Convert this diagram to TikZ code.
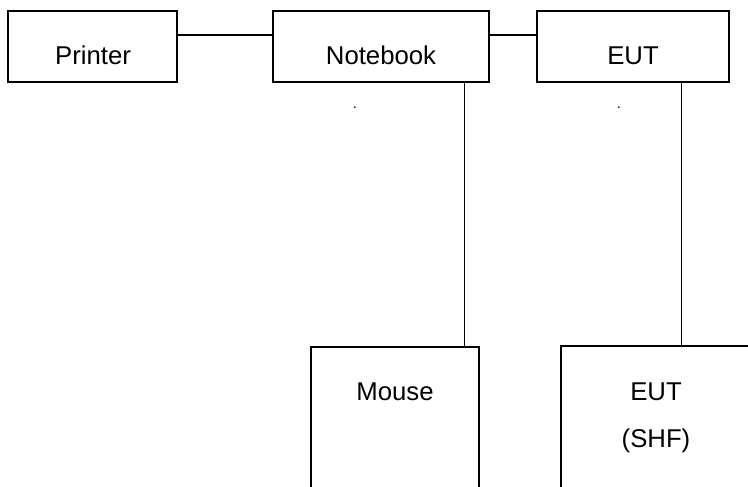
\documentclass[tikz,border=0pt]{standalone}
\usepackage{fontspec}
\setmainfont{Liberation Sans}
\begin{document}
\begin{tikzpicture}[x=0.75pt,y=-0.75pt,
  box/.style={draw=black,line width=1.5pt,inner sep=0pt,fill=none},
  conn/.style={draw=black,line width=1.1pt},
  lbl/.style={inner sep=0pt,anchor=base,font=\fontsize{19.3pt}{23pt}\selectfont},
  dotlbl/.style={inner sep=0pt,anchor=base,font=\fontsize{11pt}{12pt}\selectfont}]
\useasboundingbox (0,0) rectangle (748,486);
\node[box,minimum width=126.75pt,minimum height=53.25pt] (printer) at (92.5,46.5) {};
\node[box,minimum width=162.2pt,minimum height=53.25pt] (notebook) at (380.8,46.5) {};
\node[box,minimum width=144.45pt,minimum height=53.25pt] (eut) at (633,46.5) {};
\node[box,minimum width=126.2pt,minimum height=130pt] (mouse) at (394.8,433.3) {};
\node[box,minimum width=150pt,minimum height=130pt] (shf) at (660.7,433) {};
\node[lbl] (tprinter) at (93,64.3) {Printer};
\node[lbl] (tnotebook) at (381,64.3) {Notebook};
\node[lbl] (teut) at (633,64.3) {EUT};
\node[lbl] (tmouse) at (395,400.7) {Mouse};
\node[lbl] (tshf1) at (656,400.7) {EUT};
\node[lbl] (tshf2) at (656,447.5) {(SHF)};
\node[dotlbl] (d1) at (355,108) {.};
\node[dotlbl] (d2) at (619,108) {.};
\draw[conn] (printer.east |- 0,35) -- (notebook.west |- 0,35);
\draw[conn] (notebook.east |- 0,35) -- (eut.west |- 0,35);
\draw[conn] (notebook.south -| 464.3,0) -- (mouse.north -| 464.3,0);
\draw[conn] (eut.south -| 681.7,0) -- (shf.north -| 681.7,0);
\end{tikzpicture}
\end{document}
